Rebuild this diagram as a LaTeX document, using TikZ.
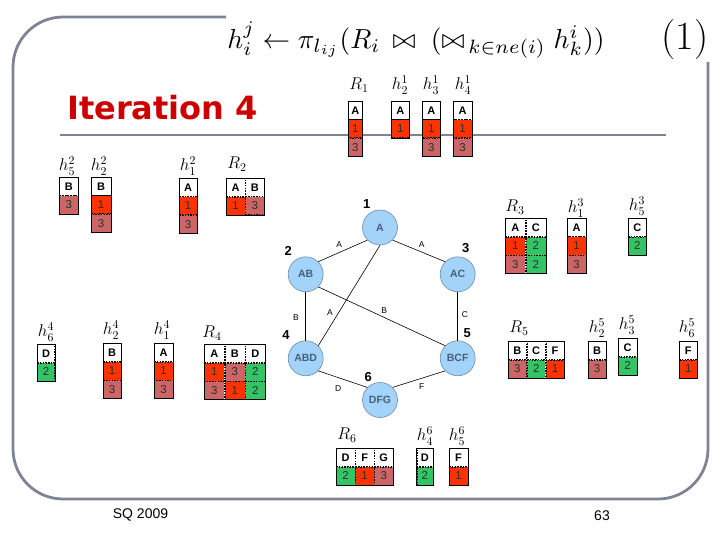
\RequirePackage{fix-cm}
\documentclass[tikz,border=0pt]{standalone}
\usepackage{fontspec}
\usepackage{graphicx}
\setsansfont{Liberation Sans}
\newfontfamily\widebold{DejaVu Sans}
\usetikzlibrary{matrix}
\definecolor{frameclr}{HTML}{7F8494}
\definecolor{cred}{HTML}{FF3300}
\definecolor{crose}{HTML}{CC6666}
\definecolor{cgreen}{HTML}{33C466}
\definecolor{nodefill}{HTML}{A3D3F8}
\definecolor{nodedraw}{HTML}{6C8CA8}
\definecolor{nodetext}{HTML}{45607C}
\definecolor{itred}{HTML}{CC0000}
\tikzset{
 tcell/.style={draw, dash pattern=on 1.5pt off 1.2pt, line width=0.5pt, inner sep=0pt, outer sep=0pt,
   minimum height=18pt, font=\sffamily\fontsize{11.5}{11.5}\selectfont, text=black!82},
 tbl/.style={matrix of nodes, nodes={tcell, minimum width=#1}, column sep=0pt, row sep=0pt,
   inner sep=0pt, outer sep=0pt, anchor=north west},
 tbl/.default=18pt,
 hd/.style={fill=white, font=\sffamily\bfseries\fontsize{11}{11}\selectfont, text=black},
 rd/.style={fill=cred}, rs/.style={fill=crose}, gn/.style={fill=cgreen},
 tborder/.style={draw=black, line width=0.8pt},
 lbl/.style={font=\fontsize{17}{17}\selectfont, inner sep=0pt},
 frameline/.style={draw=frameclr, line width=2.8pt},
 gnode/.style={circle, fill=nodefill, draw=nodedraw, line width=0.6pt, minimum size=35pt, inner sep=0pt,
   font=\sffamily\bfseries\fontsize{10.5}{10.5}\selectfont, text=nodetext},
 num/.style={font=\sffamily\bfseries\fontsize{13}{13}\selectfont, inner sep=0pt},
 elab/.style={font=\sffamily\fontsize{8.5}{8.5}\selectfont, inner sep=0pt},
 edge/.style={draw=black, line width=0.6pt},
 foot/.style={font=\sffamily\fontsize{14}{14}\selectfont, inner sep=0pt}
}
\begin{document}
\begin{tikzpicture}[x=1pt,y=-1pt]
\useasboundingbox (0,0) rectangle (720,540);
% frame
\draw[frameline, rounded corners=50pt] (226,17) -- (13,17) -- (13,499) -- (708,499) -- (708,62);
\draw[frameline] (60,135) -- (666,135);
% title
\node (eq) at (416,40) {\resizebox{377pt}{!}{$h_i^j \leftarrow \pi_{l_{ij}}(R_i \,\bowtie\; (\bowtie_{\,k\in ne(i)} h_k^i))$}};
\node[font=\fontsize{40}{40}\selectfont, inner sep=0pt] (eqnum) at (685,40) {(1)};
\node[anchor=west, inner sep=0pt, text=itred, font=\widebold\bfseries\fontsize{32}{32}\selectfont] (iter) at (67,108) {Iteration 4};
% iteration 1 tables
\node[lbl] (lR1) at (359,85) {$R_1$};
\matrix (R1) [tbl=14pt] at (348,101) {|[hd]| A \\ |[rd]| 1 \\ |[rs]| 3 \\};
\node[lbl] (lh21) at (400,85) {$h_2^1$};
\matrix (h21) [tbl] at (391,101) {|[hd]| A \\ |[rd]| 1 \\};
\node[lbl] (lh31) at (431,85) {$h_3^1$};
\matrix (h31) [tbl] at (422,101) {|[hd]| A \\ |[rd]| 1 \\ |[rs]| 3 \\};
\node[lbl] (lh41) at (463,85) {$h_4^1$};
\matrix (h41) [tbl=18.5pt] at (453,101) {|[hd]| A \\ |[rd]| 1 \\ |[rs]| 3 \\};
% iteration 2
\node[lbl] (lh52) at (67,166) {$h_5^2$};
\matrix (h52) [tbl=19pt] at (59,177) {|[hd]| B \\ |[rs]| 3 \\};
\node[lbl] (lh22) at (99,166) {$h_2^2$};
\matrix (h22) [tbl=19.5pt] at (91,177) {|[hd]| B \\ |[rd]| 1 \\ |[rs]| 3 \\};
\node[lbl] (lh12) at (188,166) {$h_1^2$};
\matrix (h12) [tbl=17.5pt] at (179,178) {|[hd]| A \\ |[rd]| 1 \\ |[rs]| 3 \\};
\node[lbl] (lR2) at (237,164) {$R_2$};
\matrix (R2) [tbl=18.7pt] at (226,178) {|[hd]| A & |[hd]| B \\ |[rd]| 1 & |[rs]| 3 \\};
% iteration 3
\node[lbl] (lR3) at (515,207) {$R_3$};
\matrix (R3) [tbl=20pt] at (505,218) {|[hd]| A & |[hd]| C \\ |[rd]| 1 & |[gn]| 2 \\ |[rs]| 3 & |[gn]| 2 \\};
\node[lbl] (lh13) at (576,208) {$h_1^3$};
\matrix (h13) [tbl=18.5pt] at (567,218) {|[hd]| A \\ |[rd]| 1 \\ |[rs]| 3 \\};
\node[lbl] (lh53) at (637,206) {$h_5^3$};
\matrix (h53) [tbl] at (628,218) {|[hd]| C \\ |[gn]| 2 \\};
% iteration 4 tables
\node[lbl] (lh64) at (46,332) {$h_6^4$};
\matrix (h64) [tbl=17.5pt] at (37,344) {|[hd]| D \\ |[gn]| 2 \\};
\node[lbl] (lh24) at (111,330) {$h_2^4$};
\matrix (h24) [tbl=17.5pt] at (103,343) {|[hd]| B \\ |[rd]| 1 \\ |[rs]| 3 \\};
\node[lbl] (lh14) at (162,330) {$h_1^4$};
\matrix (h14) [tbl=18.5pt] at (154,343) {|[hd]| A \\ |[rd]| 1 \\ |[rs]| 3 \\};
\node[lbl] (lR4) at (212,333) {$R_4$};
\matrix (R4) [tbl=20pt] at (204,344) {|[hd]| A & |[hd]| B & |[hd]| D \\ |[rd]| 1 & |[rs]| 3 & |[gn]| 2 \\ |[rs]| 3 & |[rd]| 1 & |[gn]| 2 \\};
% iteration 5
\node[lbl] (lR5) at (519,328) {$R_5$};
\matrix (R5) [tbl=18.3pt] at (508,341) {|[hd]| B & |[hd]| C & |[hd]| F \\ |[rs]| 3 & |[gn]| 2 & |[rd]| 1 \\};
\node[lbl] (lh25) at (597,328) {$h_2^5$};
\matrix (h25) [tbl=17.5pt] at (588,341) {|[hd]| B \\ |[rs]| 3 \\};
\node[lbl] (lh35) at (627,325) {$h_3^5$};
\matrix (h35) [tbl=18.5pt] at (618,338) {|[hd]| C \\ |[gn]| 2 \\};
\node[lbl] (lh65) at (687,328) {$h_6^5$};
\matrix (h65) [tbl] at (679,341) {|[hd]| F \\ |[rd]| 1 \\};
% iteration 6
\node[lbl] (lR6) at (347,435) {$R_6$};
\matrix (R6) [tbl=18.6pt] at (336,448) {|[hd]| D & |[hd]| F & |[hd]| G \\ |[gn]| 2 & |[rd]| 1 & |[rs]| 3 \\};
\node[lbl] (lh46) at (425,436) {$h_4^6$};
\matrix (h46) [tbl=16pt] at (416.5,448) {|[hd]| D \\ |[gn]| 2 \\};
\node[lbl] (lh56) at (457,436) {$h_5^6$};
\matrix (h56) [tbl=18.5pt] at (449,448) {|[hd]| F \\ |[rd]| 1 \\};
% outer borders
\foreach \t in {R1,h21,h31,h41,h52,h22,h12,R2,R3,h13,h53,h64,h24,h14,R4,R5,h25,h35,h65,R6,h46,h56}
  \draw[tborder] (\t.north west) rectangle (\t.south east);
% graph
\node[gnode] (n1) at (380,227.5) {A};
\node[gnode] (n2) at (305.7,274.3) {AB};
\node[gnode] (n3) at (457.7,274.3) {AC};
\node[gnode] (n4) at (305.7,358.3) {ABD};
\node[gnode] (n5) at (457.7,358.3) {BCF};
\node[gnode] (n6) at (380,400) {DFG};
\draw[edge] (n1.south west) -- (n2.north east);
\draw[edge] (n1.south east) -- (n3.north west);
\draw[edge] (n1.south) -- (n4.north east);
\draw[edge] (n2.south) -- (n4.north);
\draw[edge] (n2.south east) -- (n5.north west);
\draw[edge] (n3.south) -- (n5.north);
\draw[edge] (n4.south east) -- (n6.north west);
\draw[edge] (n5.south west) -- (n6.north east);
\node[num] (k1) at (366.7,204) {1};
\node[num] (k2) at (288.3,251) {2};
\node[num] (k3) at (465.7,247.7) {3};
\node[num] (k4) at (286,335) {4};
\node[num] (k5) at (467.3,333.3) {5};
\node[num] (k6) at (368.3,377.3) {6};
\node[elab] (e12) at (339.3,244.3) {A};
\node[elab] (e13) at (421.7,244.3) {A};
\node[elab] (e14) at (330,312.7) {A};
\node[elab] (e24) at (296,317.3) {B};
\node[elab] (e25) at (384.3,310.7) {B};
\node[elab] (e35) at (465,315) {C};
\node[elab] (e46) at (338.3,389) {D};
\node[elab] (e56) at (421.7,386.7) {F};
% footer
\node[foot] (sq) at (140.5,515) {SQ 2009};
\node[foot] (pg) at (602,516) {63};
\end{tikzpicture}
\end{document}
